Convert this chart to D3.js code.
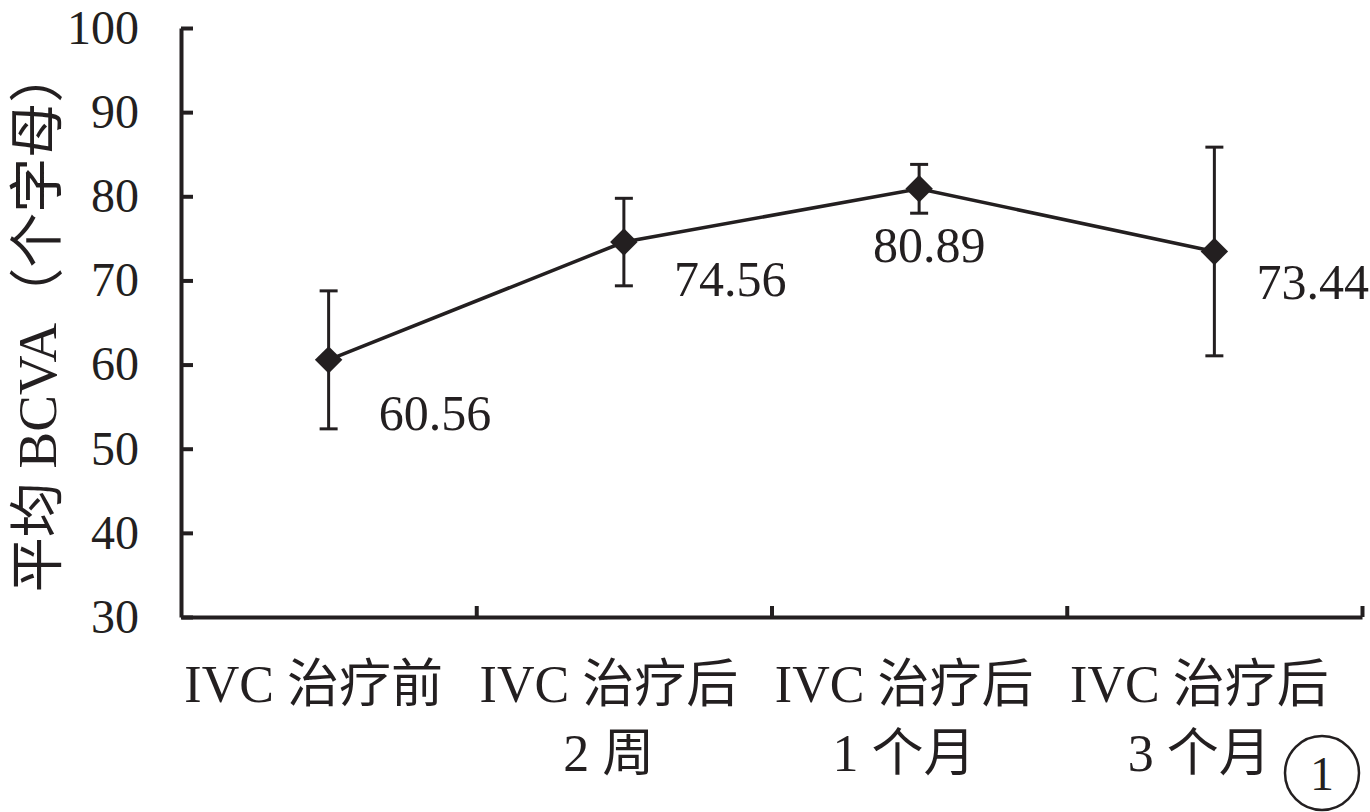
<!DOCTYPE html>
<html><head><meta charset="utf-8">
<script src="https://cdn.jsdelivr.net/npm/d3@7"></script>
<style>
html,body{margin:0;padding:0;background:#fff;}
svg text{font-family:"Liberation Serif","Noto Sans CJK SC",serif;fill:#231f20;}
</style></head>
<body><svg id="c" width="1370" height="812"></svg>
<script>
const categoriesLine1 = ["IVC 治疗前", "IVC 治疗后", "IVC 治疗后", "IVC 治疗后"];
const categoriesLine2 = ["", "2 周", "1 个月", "3 个月"];
const meanValues = [60.56, 74.56, 80.89, 73.44];
const errorValues = [8.2, 5.2, 2.9, 12.4];
const valueLabels = ["60.56", "74.56", "80.89", "73.44"];
const yTicks = [30, 40, 50, 60, 70, 80, 90, 100];
const yTitle = "平均 BCVA（个字母）";
const panelLabel = "1";

// layout (offsets for value labels, not data)
const labelDx = [50, 50, 10, 42];
const labelDy = [70, 54, 73, 48];
const labelAnchor = ["start", "start", "middle", "start"];

const ink = "#231f20";
const svg = d3.select("#c");
const mLeft = 181, mRight = 1362, mTop = 28, mBottom = 617;

const y = d3.scaleLinear().domain([30, 100]).range([mBottom, mTop]);
const xBand = d3.scaleBand().domain(d3.range(meanValues.length)).range([mLeft, mRight]).padding(0);
const xLin = d3.scaleLinear().domain([0, meanValues.length]).range([mLeft, mRight]);

// Y axis
const yAx = svg.append("g").attr("transform", `translate(${mLeft},0)`)
  .call(d3.axisLeft(y).tickValues(yTicks).tickSizeInner(-12).tickSizeOuter(0).tickPadding(42));
yAx.select(".domain").attr("stroke", ink).attr("stroke-width", 4);
yAx.selectAll(".tick line").attr("stroke", ink).attr("stroke-width", 4);
yAx.selectAll(".tick text").attr("font-size", 48).attr("font-family", "Liberation Serif").attr("fill", ink);

// X axis
const xAx = svg.append("g").attr("transform", `translate(0,${mBottom})`)
  .call(d3.axisBottom(xLin).tickValues([1, 2, 3, 4]).tickSizeInner(-11).tickSizeOuter(0).tickFormat(""));
xAx.select(".domain").attr("stroke", ink).attr("stroke-width", 4);
xAx.selectAll(".tick line").attr("stroke", ink).attr("stroke-width", 4);

// X category labels
const cx = i => xBand(i) + xBand.bandwidth() / 2;
svg.append("g").selectAll("text").data(categoriesLine1).join("text")
  .attr("x", (d, i) => cx(i) - 15).attr("y", 702).attr("text-anchor", "middle")
  .attr("font-size", 52).text(d => d);
svg.append("g").selectAll("text").data(categoriesLine2).join("text")
  .attr("x", (d, i) => cx(i) - 15).attr("y", 771).attr("text-anchor", "middle")
  .attr("font-size", 52).text(d => d);

// Y title
svg.append("text").attr("transform", `translate(56,320) rotate(-90)`)
  .attr("text-anchor", "middle").attr("font-size", 55).text(yTitle);

// error bars
const eb = svg.append("g").attr("stroke", ink).attr("stroke-width", 3);
meanValues.forEach((v, i) => {
  const e = errorValues[i], x0 = cx(i);
  eb.append("line").attr("x1", x0).attr("x2", x0).attr("y1", y(v + e)).attr("y2", y(v - e));
  eb.append("line").attr("x1", x0 - 9).attr("x2", x0 + 9).attr("y1", y(v + e)).attr("y2", y(v + e));
  eb.append("line").attr("x1", x0 - 9).attr("x2", x0 + 9).attr("y1", y(v - e)).attr("y2", y(v - e));
});

// line
svg.append("path").datum(meanValues)
  .attr("d", d3.line().x((d, i) => cx(i)).y(d => y(d)))
  .attr("fill", "none").attr("stroke", ink).attr("stroke-width", 3.5);

// markers
svg.append("g").selectAll("path").data(meanValues).join("path")
  .attr("transform", (d, i) => `translate(${cx(i)},${y(d)})`)
  .attr("d", d3.symbol(d3.symbolDiamond2, 480)).attr("fill", ink);

// value labels
svg.append("g").selectAll("text").data(meanValues).join("text")
  .attr("x", (d, i) => cx(i) + labelDx[i]).attr("y", (d, i) => y(d) + labelDy[i])
  .attr("text-anchor", (d, i) => labelAnchor[i]).attr("font-size", 50)
  .text((d, i) => valueLabels[i]);

// panel label
svg.append("circle").attr("cx", 1322).attr("cy", 773).attr("r", 37)
  .attr("fill", "none").attr("stroke", ink).attr("stroke-width", 2.5);
svg.append("text").attr("x", 1322).attr("y", 790).attr("text-anchor", "middle")
  .attr("font-size", 48).text(panelLabel);
</script></body></html>
